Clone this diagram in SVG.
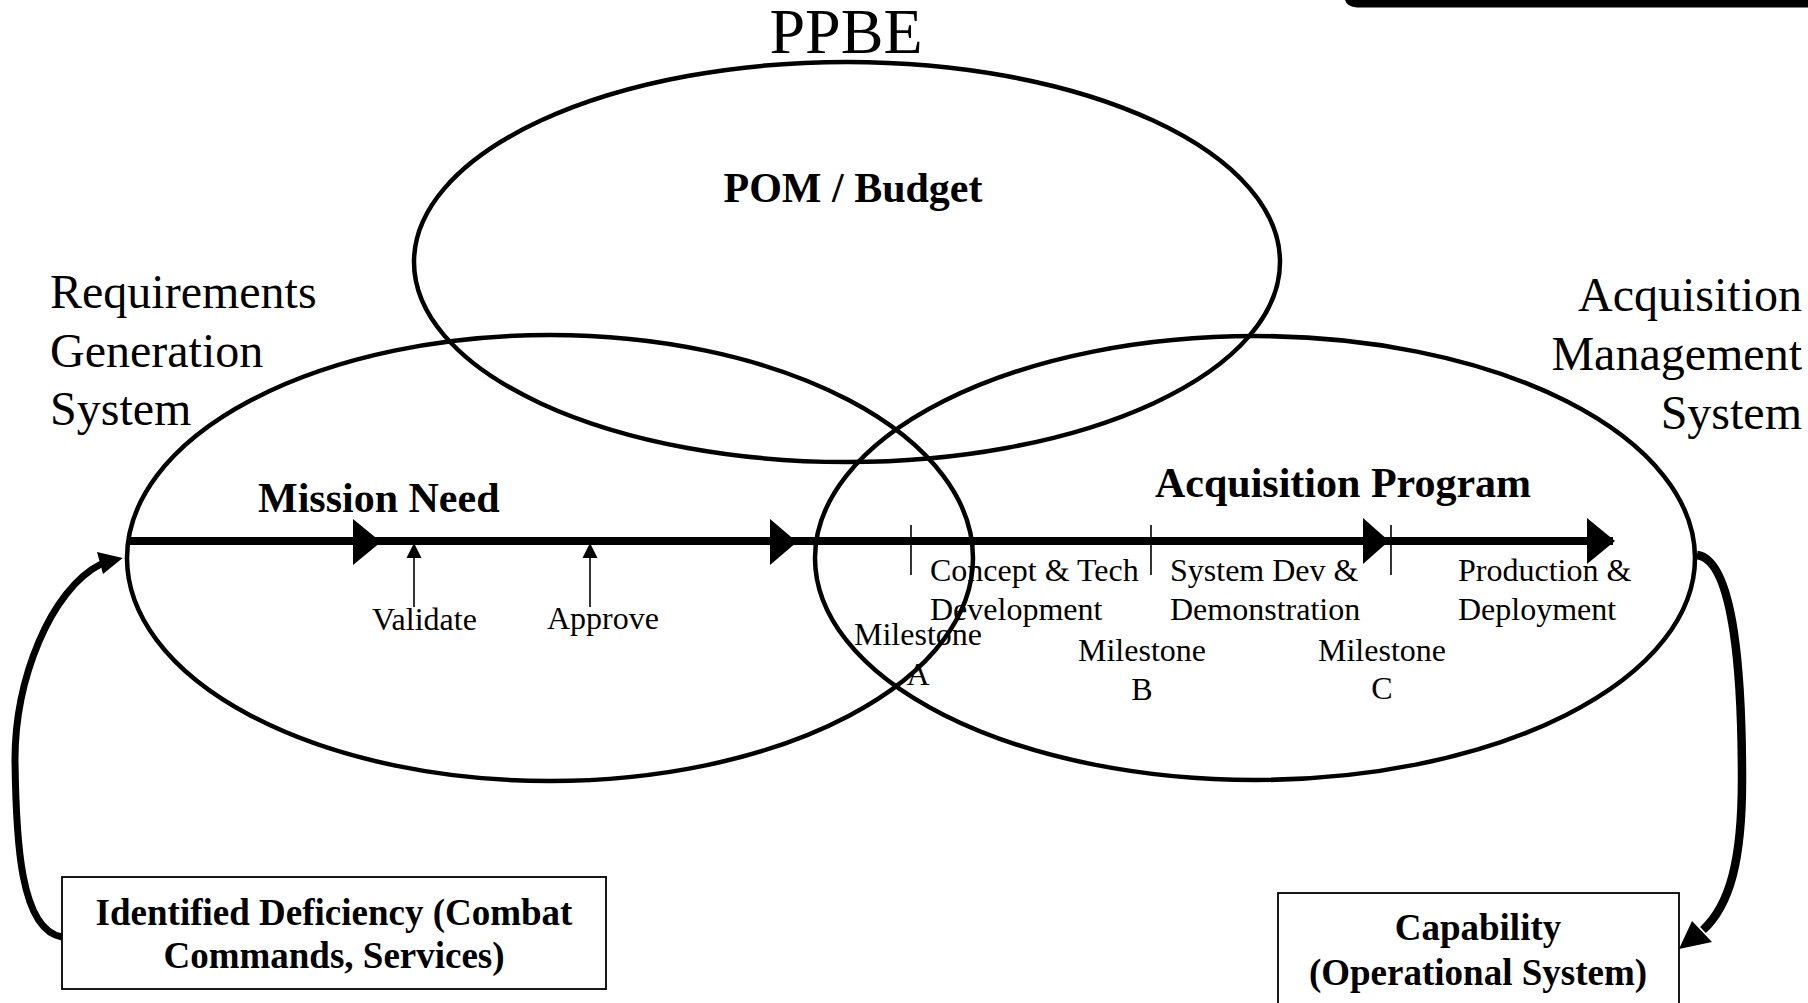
<svg xmlns="http://www.w3.org/2000/svg" width="1808" height="1003" viewBox="0 0 1808 1003">
<style>
.t{font-family:"Liberation Serif","Times New Roman",serif;fill:#000}
.big{font-size:48px}
.title{font-size:64px}
.hd{font-size:42px;font-weight:bold}
.sm{font-size:32px}
.bx{font-size:37px;font-weight:bold}
.ell{fill:none;stroke:#000;stroke-width:4.5}
.box{fill:#fff;stroke:#000;stroke-width:1.8}
.tick{stroke:#000;stroke-width:1.6}
.head{fill:#000}
</style>
<rect width="1808" height="1003" fill="#fff"/>
<path d="M1345 0 H1808 V7.5 H1357 Q1347 7 1345 0 Z" fill="#000"/>
<text class="t title" x="846" y="53" text-anchor="middle">PPBE</text>
<g id="ppbe">
<ellipse class="ell" cx="847" cy="262" rx="433" ry="200"/>
<text class="t hd" x="853" y="202" text-anchor="middle">POM / Budget</text>
</g>
<g id="requirements">
<ellipse class="ell" cx="550" cy="558" rx="423" ry="223"/>
<text class="t big" x="50" y="308">Requirements</text>
<text class="t big" x="50" y="367">Generation</text>
<text class="t big" x="50" y="425">System</text>
<text class="t hd" x="258" y="512">Mission Need</text>
</g>
<g id="acquisition">
<ellipse class="ell" cx="1255" cy="558" rx="440" ry="222"/>
<text class="t big" x="1802" y="311" text-anchor="end">Acquisition</text>
<text class="t big" x="1802" y="370" text-anchor="end">Management</text>
<text class="t big" x="1802" y="429" text-anchor="end">System</text>
<text class="t hd" x="1155" y="497">Acquisition Program</text>
</g>
<g id="deficiency">
<rect class="box" x="62" y="877" width="544" height="112"/>
<text class="t bx" x="334" y="925" text-anchor="middle">Identified Deficiency (Combat</text>
<text class="t bx" x="334" y="968" text-anchor="middle">Commands, Services)</text>
</g>
<g id="capability">
<rect class="box" x="1278" y="893" width="401" height="120"/>
<text class="t bx" x="1478" y="940" text-anchor="middle">Capability</text>
<text class="t bx" x="1478" y="985" text-anchor="middle">(Operational System)</text>
</g>
<g id="timeline">
<line x1="130" y1="541" x2="1613" y2="541" stroke="#000" stroke-width="8"/>
<polygon class="head" points="353,519 381,542 353,565"/>
<polygon class="head" points="770,519 797,542 770,565"/>
<polygon class="head" points="1363,518 1389,541 1363,564"/>
<polygon class="head" points="1587,518 1615,541 1587,564"/>
<line class="tick" x1="911" y1="525" x2="911" y2="575"/>
<line class="tick" x1="1151" y1="525" x2="1151" y2="575"/>
<line class="tick" x1="1391" y1="525" x2="1391" y2="575"/>
<line class="tick" x1="414" y1="607" x2="414" y2="556"/>
<polygon class="head" points="414,543 421.5,558 406.5,558"/>
<line class="tick" x1="590" y1="607" x2="590" y2="556"/>
<polygon class="head" points="590,543 597.5,558 582.5,558"/>
<text class="t sm" x="372" y="630">Validate</text>
<text class="t sm" x="547" y="629">Approve</text>
<text class="t sm" x="930" y="581">Concept &amp; Tech</text>
<text class="t sm" x="930" y="620">Development</text>
<text class="t sm" x="1170" y="581">System Dev &amp;</text>
<text class="t sm" x="1170" y="620">Demonstration</text>
<text class="t sm" x="1458" y="581">Production &amp;</text>
<text class="t sm" x="1458" y="620">Deployment</text>
<text class="t sm" x="918" y="645" text-anchor="middle">Milestone</text>
<text class="t sm" x="918" y="685" text-anchor="middle">A</text>
<text class="t sm" x="1142" y="661" text-anchor="middle">Milestone</text>
<text class="t sm" x="1142" y="700" text-anchor="middle">B</text>
<text class="t sm" x="1382" y="661" text-anchor="middle">Milestone</text>
<text class="t sm" x="1382" y="699" text-anchor="middle">C</text>
</g>
<g id="connectors">
<path d="M62 937 C20 930 16 840 15 760 C15 680 50 590 101 564" fill="none" stroke="#000" stroke-width="7"/>
<polygon class="head" points="122.7,558 97,552 103,574"/>
<path d="M1697 555 C1735 560 1742 680 1742 780 C1742 860 1730 905 1703 930" fill="none" stroke="#000" stroke-width="8.5"/>
<polygon class="head" points="1679,949 1692,921 1712,942"/>
</g>
</svg>
